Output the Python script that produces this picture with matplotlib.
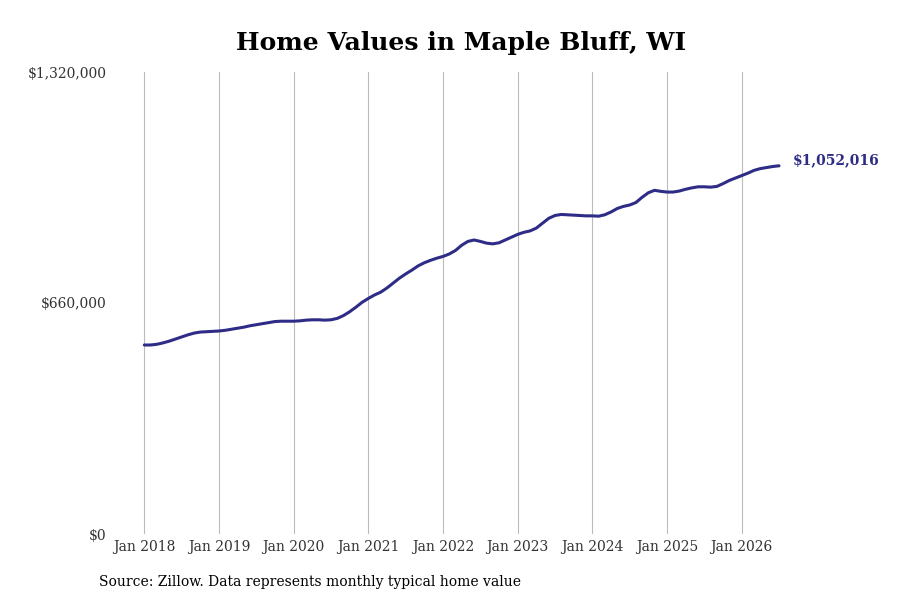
import matplotlib
matplotlib.use("Agg")
import matplotlib.pyplot as plt
import numpy as np

# Monthly typical home value (USD), Jan 2018 - Jul 2026
start_year = 2018
values_k = [
    # 2018
    540, 540, 542, 546, 551, 557, 563, 569, 574, 577, 578, 579,
    # 2019
    580, 582, 585, 588, 591, 595, 598, 601, 604, 607, 608, 608,
    # 2020
    608, 609, 611, 612, 612, 611, 612, 616, 624, 635, 648, 662,
    # 2021
    673, 683, 691, 703, 717, 731, 743, 754, 766, 775, 782, 788,
    # 2022
    793, 800, 810, 825, 836, 840, 836, 831, 829, 832, 840, 848,
    # 2023
    856, 862, 866, 874, 888, 902, 910, 913, 912, 911, 910, 909,
    # 2024
    909, 908, 912, 920, 930, 936, 940, 947, 962, 975, 982, 979,
    # 2025
    977, 977, 980, 985, 989, 992, 992, 991, 993, 1001, 1010, 1017,
    # 2026
    1024, 1031, 1039, 1044, 1047, 1050, 1052.016,
]
tick_years = list(range(2018, 2027))
tick_labels = [f"Jan {y}" for y in tick_years]
y_ticks = [0, 660000, 1320000]
y_tick_labels = ["$0", "$660,000", "$1,320,000"]
title = "Home Values in Maple Bluff, WI"
source = "Source: Zillow. Data represents monthly typical home value"
end_label = "$1,052,016"

values = np.array(values_k) * 1000
x = start_year + np.arange(len(values)) / 12.0

line_color = "#2e2c86"
plt.rcParams['font.family'] = ['DejaVu Serif']

fig = plt.figure(figsize=(9, 6), dpi=100)
ax = fig.add_axes([0.128, 0.11, 0.75, 0.77])
ax.plot(x, values, color=line_color, lw=2.2, solid_capstyle='round')
ax.set_xlim(2017.61, 2026.65)
ax.set_ylim(0, 1320000)

ax.set_xticks(tick_years)
ax.set_xticklabels(tick_labels, fontsize=10, color="#333333")
ax.set_yticks(y_ticks)
ax.set_yticklabels(y_tick_labels, fontsize=10, color="#333333")
ax.grid(axis='x', color="#bbbbbb", lw=0.8)
ax.tick_params(axis='x', length=0, pad=4)
ax.tick_params(axis='y', length=0, pad=6)
for s in ax.spines.values():
    s.set_visible(False)

ax.annotate(end_label, xy=(x[-1], values[-1]), xytext=(10, 4),
            textcoords='offset points', fontsize=10, fontweight='bold',
            color=line_color, va='center', ha='left', annotation_clip=False)

fig.text(0.512, 0.928, title, ha='center', va='center', fontsize=18,
         fontweight='bold', color='black')
fig.text(0.11, 0.03, source, ha='left', va='center', fontsize=10, color='black')

fig.savefig("out.png", dpi=100)
